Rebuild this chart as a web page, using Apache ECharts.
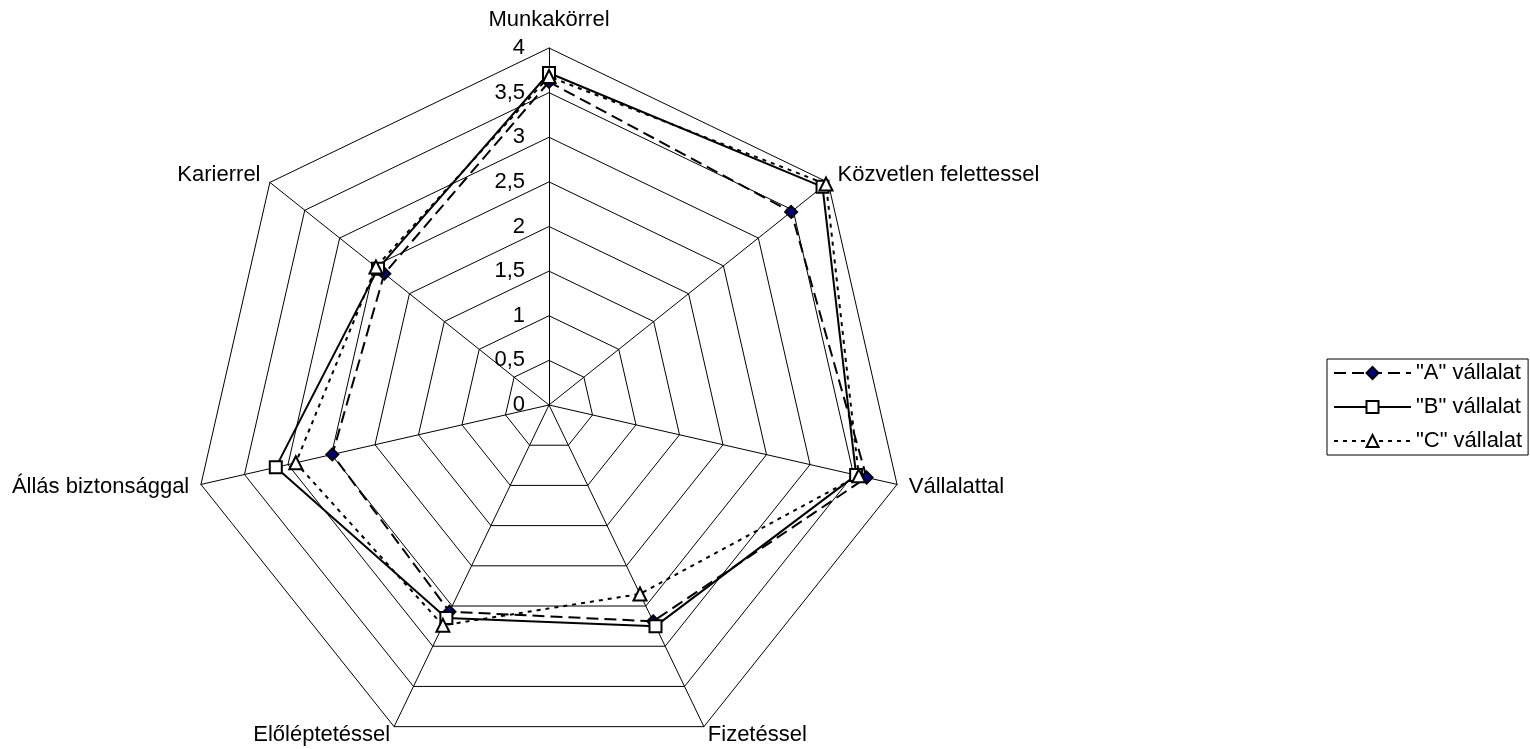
<!DOCTYPE html>
<html>
<head>
<meta charset="utf-8">
<title>Radar</title>
<script src="https://cdn.jsdelivr.net/npm/echarts@6/dist/echarts.min.js"></script>
<style>
  html, body { margin: 0; padding: 0; background: #fff; }
  #chart { width: 1530px; height: 749px; }
</style>
</head>
<body>
<div id="chart"></div>
<script>
// tengelyek (az óramutató járásával megegyezően, felülről)
const axes = ['Munkakörrel', 'Közvetlen felettessel', 'Vállalattal', 'Fizetéssel', 'Előléptetéssel', 'Állás biztonsággal', 'Karierrel']
const seriesNames = ['"A" vállalat', '"B" vállalat', '"C" vállalat']
const valuesA = [3.62, 3.47, 3.65, 2.69, 2.57, 2.49, 2.36]
const valuesB = [3.72, 3.92, 3.53, 2.75, 2.65, 3.14, 2.45]
const valuesC = [3.68, 3.97, 3.56, 2.35, 2.74, 2.91, 2.48]
const axisMax = 4
const tickStep = 0.5

const font = '"Liberation Sans", Arial, sans-serif'
const fontSize = 22
// feliratok távolsága a csúcstól tengelyenként
const nameGaps = [17, 12, 12, 9, 9, 12, 12]

// az echarts radar az óramutatóval ellentétesen halad, ezért megfordítjuk
const order = [0].concat(axes.map((_, i) => i).slice(1).reverse())
const reorder = (arr) => order.map((i) => arr[i])

const styles = [
  { symbol: 'diamond', symbolSize: 12, color: '#000080', type: [12, 6] },
  { symbol: 'rect', symbolSize: 12, color: '#ffffff', type: 'solid' },
  { symbol: 'triangle', symbolSize: 13, color: '#ffffff', type: [4, 5] }
]
const allValues = [valuesA, valuesB, valuesC]

const chart = echarts.init(document.getElementById('chart'))
chart.setOption({
  animation: false,
  textStyle: { fontFamily: font },
  legend: {
    orient: 'vertical',
    left: 1327,
    top: 359,
    data: seriesNames,
    itemWidth: 77,
    itemHeight: 15,
    itemGap: 12,
    padding: [3, 6, 3, 6],
    borderColor: '#000',
    borderWidth: 1,
    borderRadius: 0,
    backgroundColor: '#fff',
    selectedMode: false,
    textStyle: { fontSize: fontSize, color: '#000', fontFamily: font }
  },
  radar: {
    center: [549, 405],
    radius: 357,
    shape: 'polygon',
    splitNumber: axisMax / tickStep,
    startAngle: 90,
    indicator: order.map((i) => ({ name: axes[i], min: 0, max: axisMax, nameGap: nameGaps[i] })),
    nameGap: 12,
    axisName: { color: '#000', fontSize: fontSize, fontFamily: font },
    axisLine: { lineStyle: { color: '#000', width: 1 } },
    splitLine: { lineStyle: { color: '#000', width: 1 } },
    splitArea: { show: false },
    axisLabel: { show: false }
  },
  // a skála feliratai a függőleges tengely mentén
  grid: { left: 549, top: 48, height: 357, width: 10 },
  xAxis: { type: 'category', show: false, data: [''] },
  yAxis: {
    type: 'value',
    min: 0,
    max: axisMax,
    interval: tickStep,
    axisLine: { show: false },
    axisTick: { show: false },
    splitLine: { show: false },
    axisLabel: {
      margin: 24,
      fontSize: fontSize,
      color: '#000',
      fontFamily: font,
      formatter: (v) => String(v).replace('.', ',')
    }
  },
  series: [
    {
      type: 'radar',
      z: 3,
      data: allValues.map((vals, i) => ({
        name: seriesNames[i],
        value: reorder(vals),
        symbol: styles[i].symbol,
        symbolSize: styles[i].symbolSize,
        lineStyle: { color: '#000', width: 2, type: styles[i].type },
        itemStyle: { color: styles[i].color, borderColor: '#000', borderWidth: 2 }
      }))
    }
  ].concat(seriesNames.map((name, i) => ({
    // csak a jelmagyarázat ikonjához
    type: 'line',
    name: name,
    data: [],
    symbol: styles[i].symbol,
    symbolSize: styles[i].symbolSize,
    lineStyle: { color: '#000', width: 2, type: styles[i].type },
    itemStyle: { color: styles[i].color, borderColor: '#000', borderWidth: 2 }
  })))
})
</script>
</body>
</html>
